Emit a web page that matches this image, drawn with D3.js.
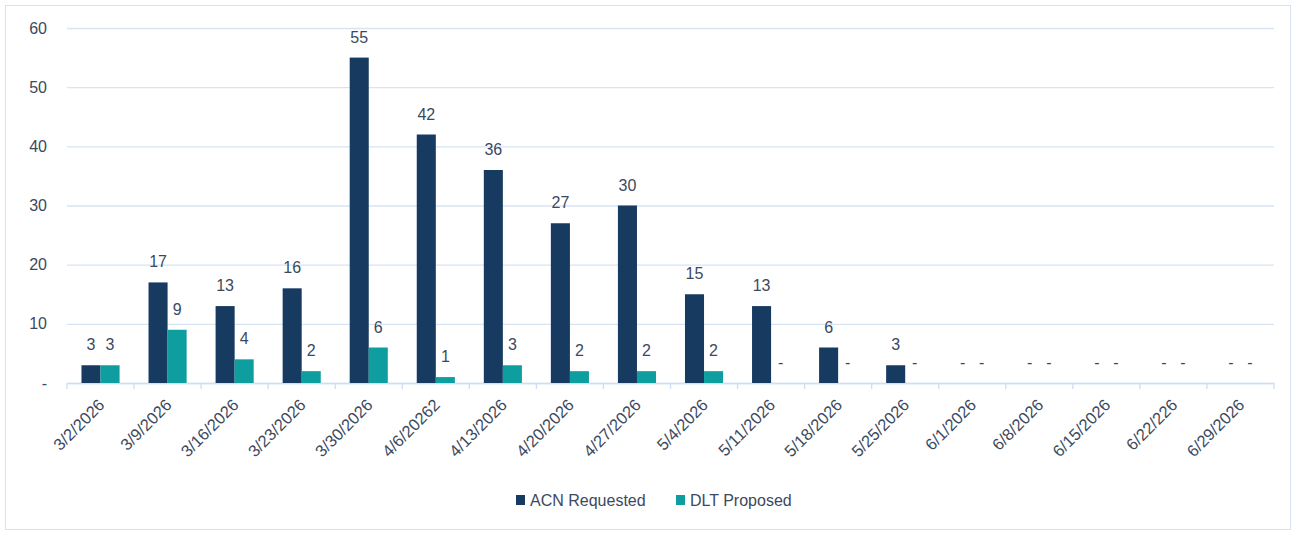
<!DOCTYPE html>
<html lang="en">
<head>
    <meta charset="UTF-8">
    <script src="https://cdn.jsdelivr.net/npm/d3@7"></script>
    <title>ACN vs DLT</title>
    <style>
        body { margin: 0; background: #fff; }
        text { font-family: "Liberation Sans", Arial, sans-serif; fill: #3b495e; }
    </style>
</head>
<body>
    <div id="chart"></div>
    <script>
        // Data
        const weeks = ["3/2/2026", "3/9/2026", "3/16/2026", "3/23/2026", "3/30/2026", "4/6/20262",
            "4/13/2026", "4/20/2026", "4/27/2026", "5/4/2026", "5/11/2026", "5/18/2026",
            "5/25/2026", "6/1/2026", "6/8/2026", "6/15/2026", "6/22/226", "6/29/2026"];
        const acnRequested = [3, 17, 13, 16, 55, 42, 36, 27, 30, 15, 13, 6, 3, 0, 0, 0, 0, 0];
        const dltProposed = [3, 9, 4, 2, 6, 1, 3, 2, 2, 2, 0, 0, 0, 0, 0, 0, 0, 0];
        const seriesNames = ["ACN Requested", "DLT Proposed"];
        const yTicks = [0, 10, 20, 30, 40, 50, 60];

        const colors = ["#173a60", "#0f9ea0"];
        const width = 1301, height = 533;
        const margin = { left: 67, right: 27, top: 28, bottom: 150 };

        const svg = d3.select("#chart").append("svg")
            .attr("width", width)
            .attr("height", height);

        // frame
        svg.append("rect")
            .attr("x", 5.5).attr("y", 5.5)
            .attr("width", 1285).attr("height", 524)
            .attr("fill", "#fff")
            .attr("stroke", "#d5e1ef");

        const x = d3.scaleBand()
            .domain(weeks)
            .range([margin.left, width - margin.right]);
        const inner = d3.scaleBand()
            .domain(seriesNames)
            .range([0, x.bandwidth()])
            .paddingInner(0)
            .paddingOuter(0.76);
        const y = d3.scaleLinear()
            .domain([0, 60])
            .range([383, margin.top]);

        // gridlines + y labels
        const yAxis = svg.append("g")
            .attr("transform", `translate(${margin.left},0)`)
            .call(d3.axisLeft(y).tickValues(yTicks).tickSize(-(width - margin.right - margin.left))
                .tickFormat(d => d === 0 ? "-" : d).tickPadding(20));
        yAxis.select(".domain").remove();
        yAxis.selectAll("line").attr("stroke", "#d6e4f4").attr("stroke-width", 1.3);
        yAxis.selectAll("text").attr("font-size", 16).style("fill", "#3b495e");

        // x axis
        const xAxis = svg.append("g")
            .attr("transform", `translate(0,${y(0)})`)
            .call(d3.axisBottom(x).tickSize(0));
        xAxis.select(".domain").attr("stroke", "#cddff2").attr("stroke-width", 1.3);
        xAxis.selectAll("text")
            .attr("font-size", 16.5)
            .style("fill", "#3b495e")
            .attr("text-anchor", "end")
            .attr("x", 0).attr("y", 0)
            .attr("dy", "0.35em")
            .attr("transform", "translate(1,19) rotate(-45)");
        // category boundary ticks
        const bounds = weeks.map(w => x(w)).concat([x(weeks[weeks.length - 1]) + x.bandwidth()]);
        svg.append("g").selectAll("line")
            .data(bounds)
            .enter()
            .append("line")
            .attr("x1", d => d).attr("x2", d => d)
            .attr("y1", y(0)).attr("y2", y(0) + 6)
            .attr("stroke", "#cddff2")
            .attr("stroke-width", 1.3);

        // bars
        const series = [acnRequested, dltProposed];
        series.forEach((vals, si) => {
            const g = svg.append("g");
            g.selectAll("rect")
                .data(vals)
                .enter()
                .append("rect")
                .attr("x", (d, i) => x(weeks[i]) + inner(seriesNames[si]))
                .attr("y", d => y(d))
                .attr("width", inner.bandwidth())
                .attr("height", d => y(0) - y(d))
                .attr("fill", colors[si]);
            g.selectAll("text")
                .data(vals)
                .enter()
                .append("text")
                .attr("x", (d, i) => x(weeks[i]) + inner(seriesNames[si]) + inner.bandwidth() / 2)
                .attr("y", d => y(d) - 15)
                .attr("text-anchor", "middle")
                .attr("font-size", 16)
                .text(d => d === 0 ? "-" : d);
        });

        // legend
        const legend = svg.append("g").attr("transform", "translate(516,495)");
        const items = [{ name: seriesNames[0], x: 0 }, { name: seriesNames[1], x: 160 }];
        items.forEach((it, i) => {
            legend.append("rect")
                .attr("x", it.x).attr("y", 0)
                .attr("width", 9).attr("height", 10)
                .attr("fill", colors[i]);
            legend.append("text")
                .attr("x", it.x + 14).attr("y", 11)
                .attr("font-size", 16)
                .text(it.name);
        });
    </script>
</body>
</html>
